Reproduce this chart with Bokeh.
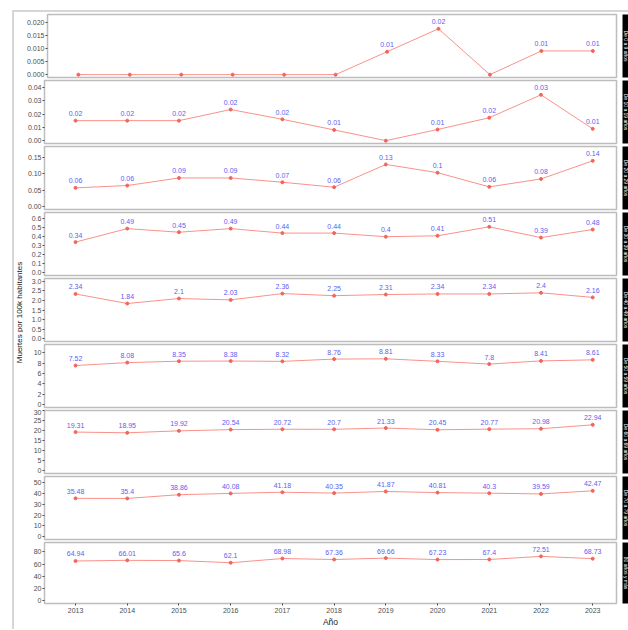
from bokeh.plotting import figure
from bokeh.layouts import column, row
from bokeh.models import ColumnDataSource, FixedTicker, Range1d, Label, PrintfTickFormatter
from bokeh.embed import file_html
from bokeh.resources import INLINE
from bokeh.core.properties import value

# ---------------- data ----------------
years = [2013, 2014, 2015, 2016, 2017, 2018, 2019, 2020, 2021, 2022, 2023]

groups = ["De 0 a 9 años", "De 10 a 19 años", "De 20 a 29 años", "De 30 a 39 años",
          "De 40 a 49 años", "De 50 a 59 años", "De 60 a 69 años", "De 70 a 79 años",
          "80 años y más"]

g1 = [0, 0, 0, 0, 0, 0, 0.0088, 0.0176, 0, 0.0091, 0.0091]
g2 = [0.0151, 0.0151, 0.0151, 0.0235, 0.0161, 0.0081, 0, 0.0084, 0.0173, 0.0346, 0.0089]
g3 = [0.057, 0.064, 0.087, 0.087, 0.074, 0.059, 0.128, 0.103, 0.060, 0.084, 0.139]
g4 = [0.34, 0.49, 0.45, 0.49, 0.44, 0.44, 0.4, 0.41, 0.51, 0.39, 0.48]
g5 = [2.34, 1.84, 2.1, 2.03, 2.36, 2.25, 2.31, 2.34, 2.34, 2.4, 2.16]
g6 = [7.52, 8.08, 8.35, 8.38, 8.32, 8.76, 8.81, 8.33, 7.8, 8.41, 8.61]
g7 = [19.31, 18.95, 19.92, 20.54, 20.72, 20.7, 21.33, 20.45, 20.77, 20.98, 22.94]
g8 = [35.48, 35.4, 38.86, 40.08, 41.18, 40.35, 41.87, 40.81, 40.3, 39.59, 42.47]
g9 = [64.94, 66.01, 65.6, 62.1, 68.98, 67.36, 69.66, 67.23, 67.4, 72.51, 68.73]

yticks1 = [0, 0.005, 0.01, 0.015, 0.02]
yticks2 = [0, 0.01, 0.02, 0.03, 0.04]
yticks3 = [0, 0.05, 0.10, 0.15]
yticks4 = [0, 0.1, 0.2, 0.3, 0.4, 0.5, 0.6]
yticks5 = [0, 0.5, 1.0, 1.5, 2.0, 2.5, 3.0]
yticks6 = [0, 2, 4, 6, 8, 10]
yticks7 = [0, 5, 10, 15, 20, 25, 30]
yticks8 = [0, 10, 20, 30, 40, 50]
yticks9 = [0, 20, 40, 60, 80]

series = [g1, g2, g3, g4, g5, g6, g7, g8, g9]
ticks = [yticks1, yticks2, yticks3, yticks4, yticks5, yticks6, yticks7, yticks8, yticks9]
tick_fmt = ["%.3f", "%.2f", "%.2f", "%.1f", "%.1f", "%d", "%d", "%d", "%d"]

# ---------------- style ----------------
FONT = "Liberation Sans"
FW = 572          # frame width
FH = 63           # frame height
LEFT = 21
GAP_R = 6
STRIP_W = 6
LINE_C = "#F8766D"
PT_C = "#F4645A"
LAB_C = "#6060F0"
AX_C = "#4d4d4d"
OUT_C = "#bdbdbd"

n = len(series)
panel_rows = []
heights = []
for i, (vals, tk) in enumerate(zip(series, ticks)):
    first = i == 0
    last = i == n - 1
    top = 2 if first else 1
    bottom = 24 if last else 2
    h = top + FH + bottom
    heights.append(h)
    hi = 1.25 * max(vals)
    p = figure(width=LEFT + FW + GAP_R, height=h, output_backend="svg",
               toolbar_location=None,
               x_range=Range1d(2012.4, 2023.46),
               y_range=Range1d(-0.05 * hi, 1.05 * hi))
    p.min_border = 0
    p.min_border_left = LEFT
    p.min_border_right = GAP_R
    p.min_border_top = top
    p.min_border_bottom = bottom
    p.grid.visible = False
    p.outline_line_color = OUT_C
    p.outline_line_width = 1.5
    p.background_fill_color = "white"
    p.border_fill_color = "white"

    src = ColumnDataSource(dict(x=years, y=vals))
    p.line("x", "y", source=src, line_color=LINE_C, line_width=1.0, line_alpha=0.8)
    p.scatter("x", "y", source=src, size=3, marker="circle",
              fill_color=PT_C, line_color=PT_C)

    lx = [x for x, v in zip(years, vals) if v != 0]
    ly = [v for v in vals if v != 0]
    lt = [f"{round(v, 2):g}" for v in ly]
    lsrc = ColumnDataSource(dict(x=lx, y=ly, t=lt))
    p.text("x", "y", text="t", source=lsrc, text_font=value(FONT),
           text_font_size="7px", text_color=LAB_C, text_align="center",
           text_baseline="middle", y_offset=-7)

    ya = p.yaxis[0]
    ya.ticker = FixedTicker(ticks=tk)
    ya.formatter = PrintfTickFormatter(format=tick_fmt[i])
    ya.axis_line_color = None
    ya.major_tick_line_color = AX_C
    ya.major_tick_out = 2
    ya.major_tick_in = 0
    ya.minor_tick_line_color = None
    ya.major_label_standoff = 1
    ya.major_label_text_font = FONT
    ya.major_label_text_font_size = "7px"
    ya.major_label_text_color = AX_C

    xa = p.xaxis[0]
    if last:
        xa.ticker = FixedTicker(ticks=years)
        xa.axis_line_color = None
        xa.major_tick_line_color = AX_C
        xa.major_tick_out = 2
        xa.major_tick_in = 0
        xa.minor_tick_line_color = None
        xa.major_label_standoff = 2
        xa.major_label_text_font = FONT
        xa.major_label_text_font_size = "7px"
        xa.major_label_text_color = AX_C
        xa.axis_label = "Año"
        xa.axis_label_text_font = FONT
        xa.axis_label_text_font_size = "8.5px"
        xa.axis_label_text_font_style = "normal"
        xa.axis_label_text_color = "#1a1a1a"
        xa.axis_label_standoff = 1
    else:
        xa.visible = False

    s = figure(width=STRIP_W, height=h, output_backend="svg", toolbar_location=None,
               x_range=Range1d(0, 1), y_range=Range1d(0, 1),
               x_axis_type=None, y_axis_type=None)
    s.min_border = 0
    s.min_border_top = top
    s.min_border_bottom = bottom
    s.background_fill_color = "black"
    s.border_fill_color = "white"
    s.outline_line_color = None
    s.grid.visible = False
    s.add_layout(Label(x=0.5, y=0.5, text=groups[i], angle=-90, angle_units="deg",
                       text_font=FONT, text_font_size="5px", text_color="white",
                       text_align="center", text_baseline="middle"))
    panel_rows.append(row(p, s))

total_h = sum(heights)
LW = 9
left = figure(width=LW, height=total_h, output_backend="svg", toolbar_location=None,
              x_range=Range1d(0, LW), y_range=Range1d(0, total_h),
              x_axis_type=None, y_axis_type=None)
left.min_border = 0
left.outline_line_color = None
left.grid.visible = False
left.add_layout(Label(x=4.5, y=total_h - 300, text="Muertes por 100k habitantes",
                      angle=90, angle_units="deg", text_font=FONT,
                      text_font_size="8px", text_color="#1a1a1a",
                      text_align="center", text_baseline="middle"))

layout = row(left, column(*panel_rows),
             styles={"margin-left": "12px", "margin-top": "10px",
                     "border-left": "2px solid #d6d6d6", "border-top": "2px solid #d6d6d6"})

open("out.html", "w").write(file_html(layout, INLINE))
